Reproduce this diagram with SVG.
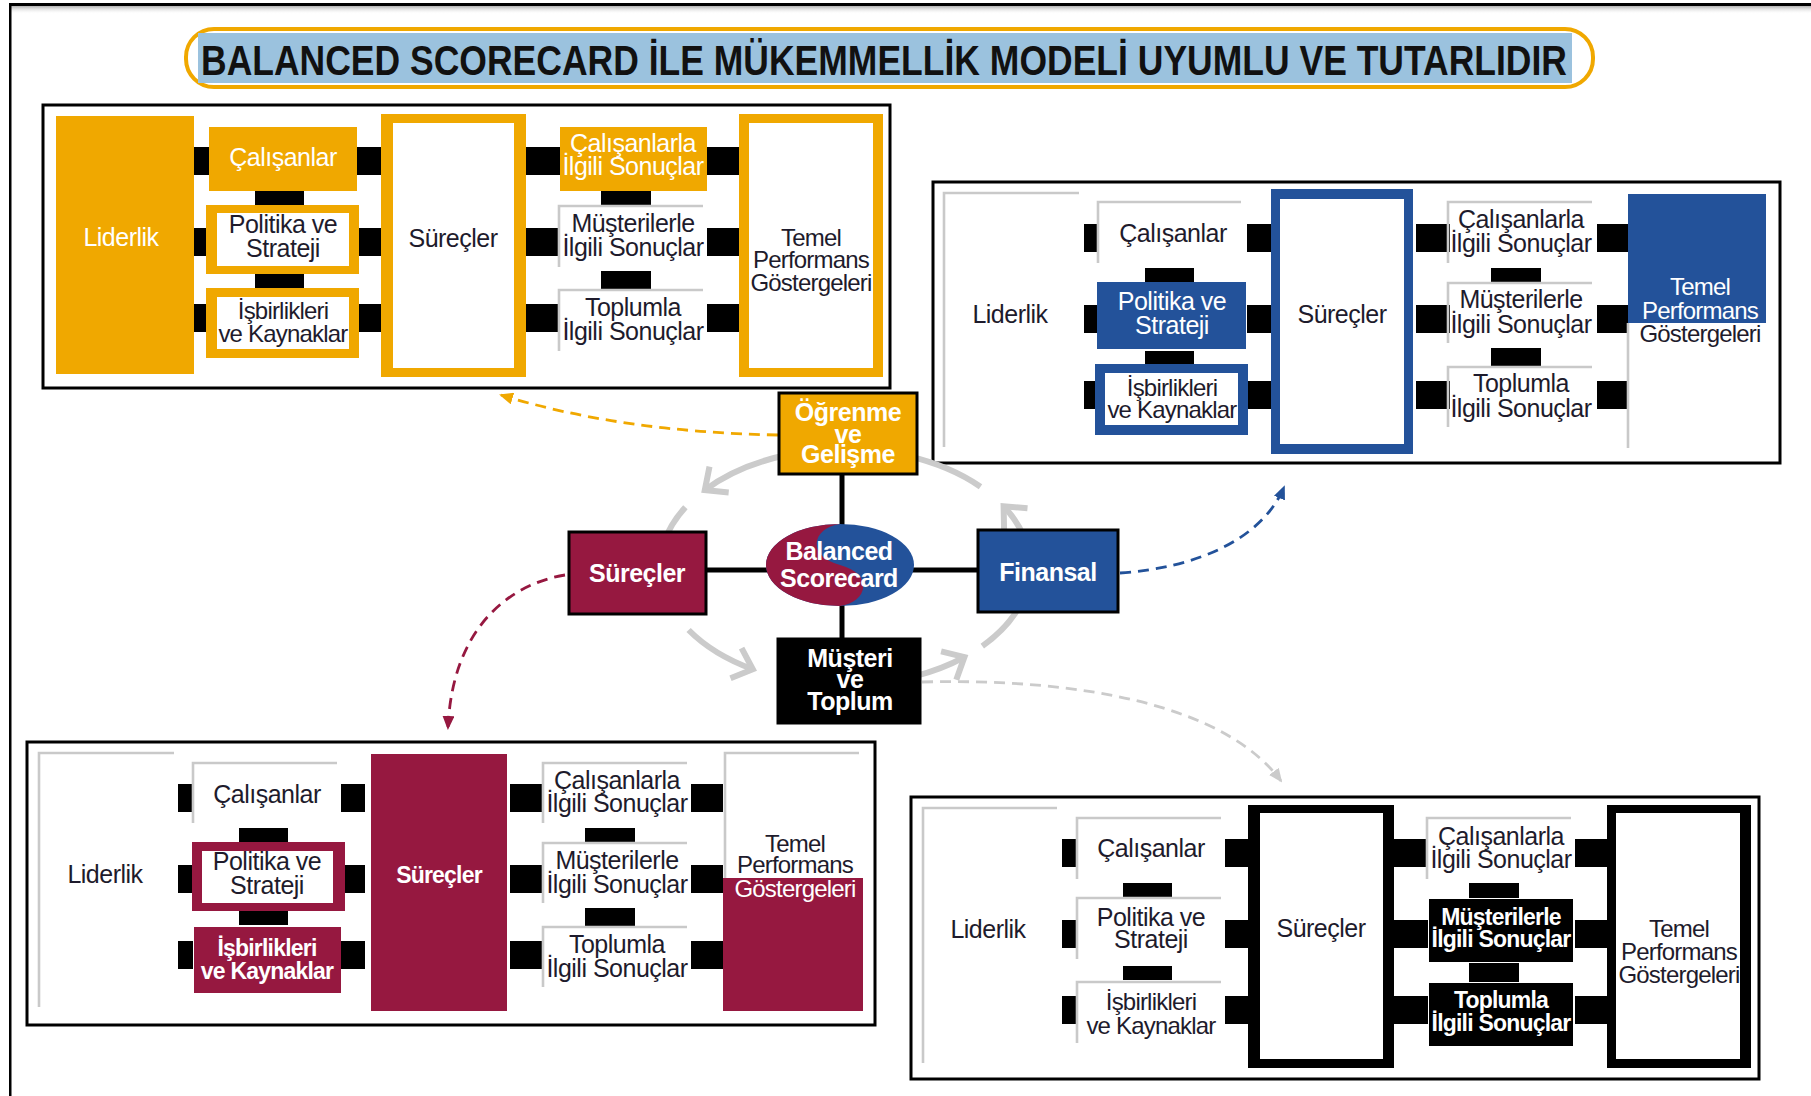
<svg xmlns="http://www.w3.org/2000/svg" xmlns:xlink="http://www.w3.org/1999/xlink" width="1811" height="1096" viewBox="0 0 1811 1096">
<style>
.t{font-family:'Liberation Sans',Arial,sans-serif;font-size:25px;letter-spacing:-0.5px;text-anchor:middle;fill:#1e1b2c}
.n{font-size:24px;letter-spacing:-0.8px}
.w{fill:#fff}
.bd{font-weight:bold;font-size:23px;letter-spacing:-0.8px}
.c{font-size:25px;font-weight:bold;letter-spacing:-0.5px;fill:#fff}
.frame{fill:#fff;stroke:#000;stroke-width:3}
.br{fill:none;stroke:#c9c9c9;stroke-width:2.6}
.arc{fill:none;stroke:#cbcbcb;stroke-width:6}
.chev{fill:none;stroke:#cbcbcb;stroke-width:6;stroke-linejoin:miter}
.dash{fill:none;stroke-width:2.8;stroke-dasharray:11 7}
.box{stroke:#000;stroke-width:3}
.or{fill:#F0A800}.mr{fill:#961840}.bl{fill:#23529A}.bk{fill:#000}.wh{fill:#fff}
</style>
<defs>
<linearGradient id="shade" x1="0" y1="0" x2="0" y2="1">
<stop offset="0" stop-color="#b0b0b0"/><stop offset="1" stop-color="#fff" stop-opacity="0"/>
</linearGradient>
<marker id="ah-or" viewBox="0 0 14 12" refX="12" refY="6" markerWidth="14" markerHeight="12" markerUnits="userSpaceOnUse" orient="auto"><path d="M0,0 L14,6 L0,12 z" fill="#F0A800"/></marker>
<marker id="ah-mr" viewBox="0 0 14 12" refX="12" refY="6" markerWidth="14" markerHeight="12" markerUnits="userSpaceOnUse" orient="auto"><path d="M0,0 L14,6 L0,12 z" fill="#961840"/></marker>
<marker id="ah-bl" viewBox="0 0 14 12" refX="12" refY="6" markerWidth="14" markerHeight="12" markerUnits="userSpaceOnUse" orient="auto"><path d="M0,0 L14,6 L0,12 z" fill="#23529A"/></marker>
<marker id="ah-gr" viewBox="0 0 14 12" refX="12" refY="6" markerWidth="14" markerHeight="12" markerUnits="userSpaceOnUse" orient="auto"><path d="M0,0 L14,6 L0,12 z" fill="#cbcbcb"/></marker>
<!-- black link blocks shared by the four EFQM panels (panel-local coordinates) -->
<g id="links-set" fill="#000">
<rect x="151" y="42" width="15" height="28"/><rect x="151" y="123" width="15" height="28"/><rect x="151" y="199" width="15" height="28"/>
<rect x="314" y="42" width="24" height="28"/><rect x="314" y="123" width="24" height="28"/><rect x="314" y="199" width="24" height="28"/>
<rect x="483" y="42" width="34" height="28"/><rect x="483" y="123" width="34" height="28"/><rect x="483" y="199" width="34" height="28"/>
<rect x="664" y="42" width="32" height="28"/><rect x="664" y="123" width="32" height="28"/><rect x="664" y="199" width="32" height="28"/>
<rect x="212" y="86" width="49" height="14"/><rect x="212" y="169" width="49" height="14"/>
<rect x="558" y="86" width="50" height="15"/><rect x="558" y="166" width="50" height="19"/>
</g>
</defs>

<rect width="1811" height="1096" fill="#fff"/>
<!-- page edge -->
<rect x="9" y="6" width="1802" height="8" fill="url(#shade)"/>
<rect x="9" y="3" width="1802" height="3" fill="#000"/>
<rect x="9" y="3" width="2.5" height="1093" fill="#000"/>

<!-- title -->
<g id="title">
<rect x="186" y="29" width="1407" height="58" rx="28" fill="#fff" stroke="#F0A800" stroke-width="4"/>
<rect x="198" y="33" width="1374" height="50" fill="#9BC2DE"/>
<text x="201" y="75" textLength="1366" lengthAdjust="spacingAndGlyphs" style="font-family:'Liberation Sans',Arial,sans-serif;font-size:43px;font-weight:bold;fill:#111">BALANCED SCORECARD İLE MÜKEMMELLİK MODELİ UYUMLU VE TUTARLIDIR</text>
</g>

<!-- panel frames -->
<g id="frames">
<rect class="frame" x="43" y="105" width="847" height="283"/>
<rect class="frame" x="933" y="182" width="847" height="281"/>
<rect class="frame" x="27" y="742" width="848" height="283"/>
<rect class="frame" x="911" y="797" width="848" height="282"/>
</g>

<!-- connectors -->
<g id="connectors">
<use xlink:href="#links-set" href="#links-set" transform="translate(43,105)"/>
<use xlink:href="#links-set" href="#links-set" transform="translate(933,182)"/>
<use xlink:href="#links-set" href="#links-set" transform="translate(27,742)"/>
<use xlink:href="#links-set" href="#links-set" transform="translate(911,797)"/>
<!-- scorecard cross -->
<g stroke="#000" stroke-width="5">
<line x1="842" y1="474" x2="842" y2="527"/>
<line x1="842" y1="603" x2="842" y2="639"/>
<line x1="706" y1="570" x2="768" y2="570"/>
<line x1="910" y1="570" x2="978" y2="570"/>
</g>
<!-- perspective cycle -->
<path class="arc" d="M787.8 454.8 A185 118 0 0 0 704.8 490.1"/>
<polyline class="chev" points="728.7,492.4 704.8,490.1 709.5,466.6"/>
<path class="arc" d="M685.4 507.3 A185 118 0 0 0 664 542.5"/>
<path class="arc" d="M688.6 630 A185 118 0 0 0 752.8 669.3"/>
<polyline class="chev" points="741.6,648.1 752.8,669.3 730.5,678.2"/>
<path class="arc" d="M914.3 676.4 A185 118 0 0 0 964.4 657.1"/>
<polyline class="chev" points="941.1,651.4 964.4,657.1 956.3,679.7"/>
<path class="arc" d="M982.3 646.1 A185 118 0 0 0 1021 603.5"/>
<path class="arc" d="M1023.7 536.5 A185 118 0 0 0 1003.6 506.2"/>
<polyline class="chev" points="1004.1,530.2 1003.6,506.2 1027.5,508.2"/>
<path class="arc" d="M980.5 486.7 A185 118 0 0 0 908.3 456.1"/>
<!-- dashed links to the panels -->
<path class="dash" stroke="#F0A800" marker-end="url(#ah-or)" d="M778 435 Q620 432 501 395"/>
<path class="dash" stroke="#961840" marker-end="url(#ah-mr)" d="M565 575 C505 585 452 632 448 728"/>
<path class="dash" stroke="#23529A" marker-end="url(#ah-bl)" d="M1120 573 C1195 568 1262 540 1284 487"/>
<path class="dash" stroke="#cbcbcb" marker-end="url(#ah-gr)" d="M922 682 C1080 678 1225 705 1281 781"/>
</g>

<!-- panel: Öğrenme ve Gelişme -->
<g id="panel-ogrenme" transform="translate(43,105)">
<g id="p1-liderlik"><rect class="or" x="13" y="11" width="138" height="258"/><text class="t w" x="78" y="141">Liderlik</text></g>
<g id="p1-calisanlar"><rect class="or" x="166" y="22" width="148" height="64"/><text class="t w" x="240" y="61">Çalışanlar</text></g>
<g id="p1-politika"><rect class="or" x="163" y="100" width="153" height="69"/><rect class="wh" x="174" y="108" width="132" height="53"/><text class="t" x="240" y="128">Politika ve</text><text class="t" x="240" y="152">Strateji</text></g>
<g id="p1-isbirlikleri"><rect class="or" x="163" y="183" width="153" height="70"/><rect class="wh" x="174" y="192" width="132" height="52"/><text class="t n" x="240" y="214">İşbirlikleri</text><text class="t n" x="240" y="237">ve Kaynaklar</text></g>
<g id="p1-surecler"><rect class="or" x="338" y="9" width="145" height="263"/><rect class="wh" x="350" y="18" width="121" height="245"/><text class="t" x="410" y="142">Süreçler</text></g>
<g id="p1-calisan-sonuc"><rect class="or" x="517" y="22" width="147" height="64"/><text class="t w" x="590" y="47">Çalışanlarla</text><text class="t w" x="590" y="70">İlgili Sonuçlar</text></g>
<g id="p1-musteri-sonuc"><polyline class="br" points="660,101 516,101 516,162"/><text class="t" x="590" y="127">Müşterilerle</text><text class="t" x="590" y="151">İlgili Sonuçlar</text></g>
<g id="p1-toplum-sonuc"><polyline class="br" points="660,185 516,185 516,246"/><text class="t" x="590" y="211">Toplumla</text><text class="t" x="590" y="235">İlgili Sonuçlar</text></g>
<g id="p1-tpg"><rect class="or" x="696" y="9" width="144" height="263"/><rect class="wh" x="706" y="18" width="124" height="245"/><text class="t n" x="768" y="141">Temel</text><text class="t n" x="768" y="163">Performans</text><text class="t n" x="768" y="186">Göstergeleri</text></g>
</g>

<!-- panel: Finansal -->
<g id="panel-finansal" transform="translate(933,182)">
<g id="p2-liderlik"><polyline class="br" points="146,11 11,11 11,265"/><text class="t" x="77" y="141">Liderlik</text></g>
<g id="p2-calisanlar"><polyline class="br" points="308,20 165,20 165,81"/><text class="t" x="240" y="60">Çalışanlar</text></g>
<g id="p2-politika"><rect class="bl" x="164" y="100" width="149" height="67"/><text class="t w" x="239" y="128">Politika ve</text><text class="t w" x="239" y="152">Strateji</text></g>
<g id="p2-isbirlikleri"><rect class="bl" x="162" y="182" width="153" height="71"/><rect class="wh" x="172" y="191" width="133" height="52"/><text class="t n" x="239" y="214">İşbirlikleri</text><text class="t n" x="239" y="236">ve Kaynaklar</text></g>
<g id="p2-surecler"><rect class="bl" x="338" y="7" width="142" height="265"/><rect class="wh" x="347" y="17" width="124" height="245"/><text class="t" x="409" y="141">Süreçler</text></g>
<g id="p2-calisan-sonuc"><polyline class="br" points="659,20 515,20 515,81"/><text class="t" x="588" y="46">Çalışanlarla</text><text class="t" x="588" y="70">İlgili Sonuçlar</text></g>
<g id="p2-musteri-sonuc"><polyline class="br" points="659,101 515,101 515,161"/><text class="t" x="588" y="126">Müşterilerle</text><text class="t" x="588" y="151">İlgili Sonuçlar</text></g>
<g id="p2-toplum-sonuc"><polyline class="br" points="659,185 515,185 515,245"/><text class="t" x="588" y="210">Toplumla</text><text class="t" x="588" y="235">İlgili Sonuçlar</text></g>
<g id="p2-tpg"><rect class="bl" x="695" y="12" width="138" height="129"/><polyline class="br" points="695,141 695,266"/><text class="t n w" x="767" y="113">Temel</text><text class="t n w" x="767" y="137">Performans</text><text class="t n" x="767" y="160">Göstergeleri</text></g>
</g>

<!-- panel: Süreçler -->
<g id="panel-surecler" transform="translate(27,742)">
<g id="p3-liderlik"><polyline class="br" points="147,11 12,11 12,265"/><text class="t" x="78" y="141">Liderlik</text></g>
<g id="p3-calisanlar"><polyline class="br" points="310,21 166,21 166,81"/><text class="t" x="240" y="61">Çalışanlar</text></g>
<g id="p3-politika"><rect class="mr" x="165" y="100" width="153" height="69"/><rect class="wh" x="175" y="109" width="131" height="52"/><text class="t" x="240" y="128">Politika ve</text><text class="t" x="240" y="152">Strateji</text></g>
<g id="p3-isbirlikleri"><rect class="mr" x="167" y="185" width="147" height="66"/><text class="t w bd" x="240" y="214">İşbirlikleri</text><text class="t w bd" x="240" y="237">ve Kaynaklar</text></g>
<g id="p3-surecler"><rect class="mr" x="344" y="12" width="136" height="257"/><text class="t w bd" x="412" y="141">Süreçler</text></g>
<g id="p3-calisan-sonuc"><polyline class="br" points="660,21 516,21 516,81"/><text class="t" x="590" y="47">Çalışanlarla</text><text class="t" x="590" y="70">İlgili Sonuçlar</text></g>
<g id="p3-musteri-sonuc"><polyline class="br" points="660,101 516,101 516,161"/><text class="t" x="590" y="127">Müşterilerle</text><text class="t" x="590" y="151">İlgili Sonuçlar</text></g>
<g id="p3-toplum-sonuc"><polyline class="br" points="660,185 516,185 516,245"/><text class="t" x="590" y="211">Toplumla</text><text class="t" x="590" y="235">İlgili Sonuçlar</text></g>
<g id="p3-tpg"><polyline class="br" points="832,11 698,11 698,136"/><rect class="mr" x="696" y="136" width="140" height="133"/><text class="t n" x="768" y="110">Temel</text><text class="t n" x="768" y="131">Performans</text><text class="t n w" x="768" y="155">Göstergeleri</text></g>
</g>

<!-- panel: Müşteri ve Toplum -->
<g id="panel-musteri" transform="translate(911,797)">
<g id="p4-liderlik"><polyline class="br" points="146,11 12,11 12,266"/><text class="t" x="77" y="141">Liderlik</text></g>
<g id="p4-calisanlar"><polyline class="br" points="310,21 166,21 166,82"/><text class="t" x="240" y="60">Çalışanlar</text></g>
<g id="p4-politika"><polyline class="br" points="310,101 166,101 166,162"/><text class="t" x="240" y="129">Politika ve</text><text class="t" x="240" y="151">Strateji</text></g>
<g id="p4-isbirlikleri"><polyline class="br" points="310,185 166,185 166,246"/><text class="t n" x="240" y="213">İşbirlikleri</text><text class="t n" x="240" y="237">ve Kaynaklar</text></g>
<g id="p4-surecler"><rect class="bk" x="337" y="8" width="146" height="263"/><rect class="wh" x="349" y="16" width="123" height="246"/><text class="t" x="410" y="140">Süreçler</text></g>
<g id="p4-calisan-sonuc"><polyline class="br" points="660,21 516,21 516,82"/><text class="t" x="590" y="48">Çalışanlarla</text><text class="t" x="590" y="71">İlgili Sonuçlar</text></g>
<g id="p4-musteri-sonuc"><rect class="bk" x="518" y="102" width="144" height="63"/><text class="t w bd" x="590" y="128">Müşterilerle</text><text class="t w bd" x="590" y="150">İlgili Sonuçlar</text></g>
<g id="p4-toplum-sonuc"><rect class="bk" x="518" y="186" width="144" height="63"/><text class="t w bd" x="590" y="211">Toplumla</text><text class="t w bd" x="590" y="234">İlgili Sonuçlar</text></g>
<g id="p4-tpg"><rect class="bk" x="696" y="8" width="144" height="263"/><rect class="wh" x="705" y="16" width="124" height="246"/><text class="t n" x="768" y="140">Temel</text><text class="t n" x="768" y="163">Performans</text><text class="t n" x="768" y="186">Göstergeleri</text></g>
</g>

<!-- balanced scorecard perspectives -->
<g id="node-ogrenme"><rect class="box or" x="779" y="393" width="138" height="81"/><text class="t c" x="848" y="421">Öğrenme</text><text class="t c" x="848" y="443">ve</text><text class="t c" x="848" y="463">Gelişme</text></g>
<g id="node-surecler"><rect class="box mr" x="569" y="532" width="137" height="82"/><text class="t c" x="637" y="582">Süreçler</text></g>
<g id="node-finansal"><rect class="box bl" x="978" y="530" width="140" height="82"/><text class="t c" x="1048" y="581">Finansal</text></g>
<g id="node-musteri"><rect class="box bk" x="778" y="639" width="142" height="84"/><text class="t c" x="850" y="667">Müşteri</text><text class="t c" x="850" y="688">ve</text><text class="t c" x="850" y="710">Toplum</text></g>
<g id="node-bsc">
<ellipse cx="840" cy="565" rx="74" ry="41" fill="#23529A"/>
<path d="M840 524 C812 528 806 556 840 565 C874 574 868 602 840 606 A74 41 0 0 1 840 524 Z" fill="#961840"/>
<text class="t c" x="839" y="560">Balanced</text><text class="t c" x="839" y="587">Scorecard</text>
</g>
</svg>
